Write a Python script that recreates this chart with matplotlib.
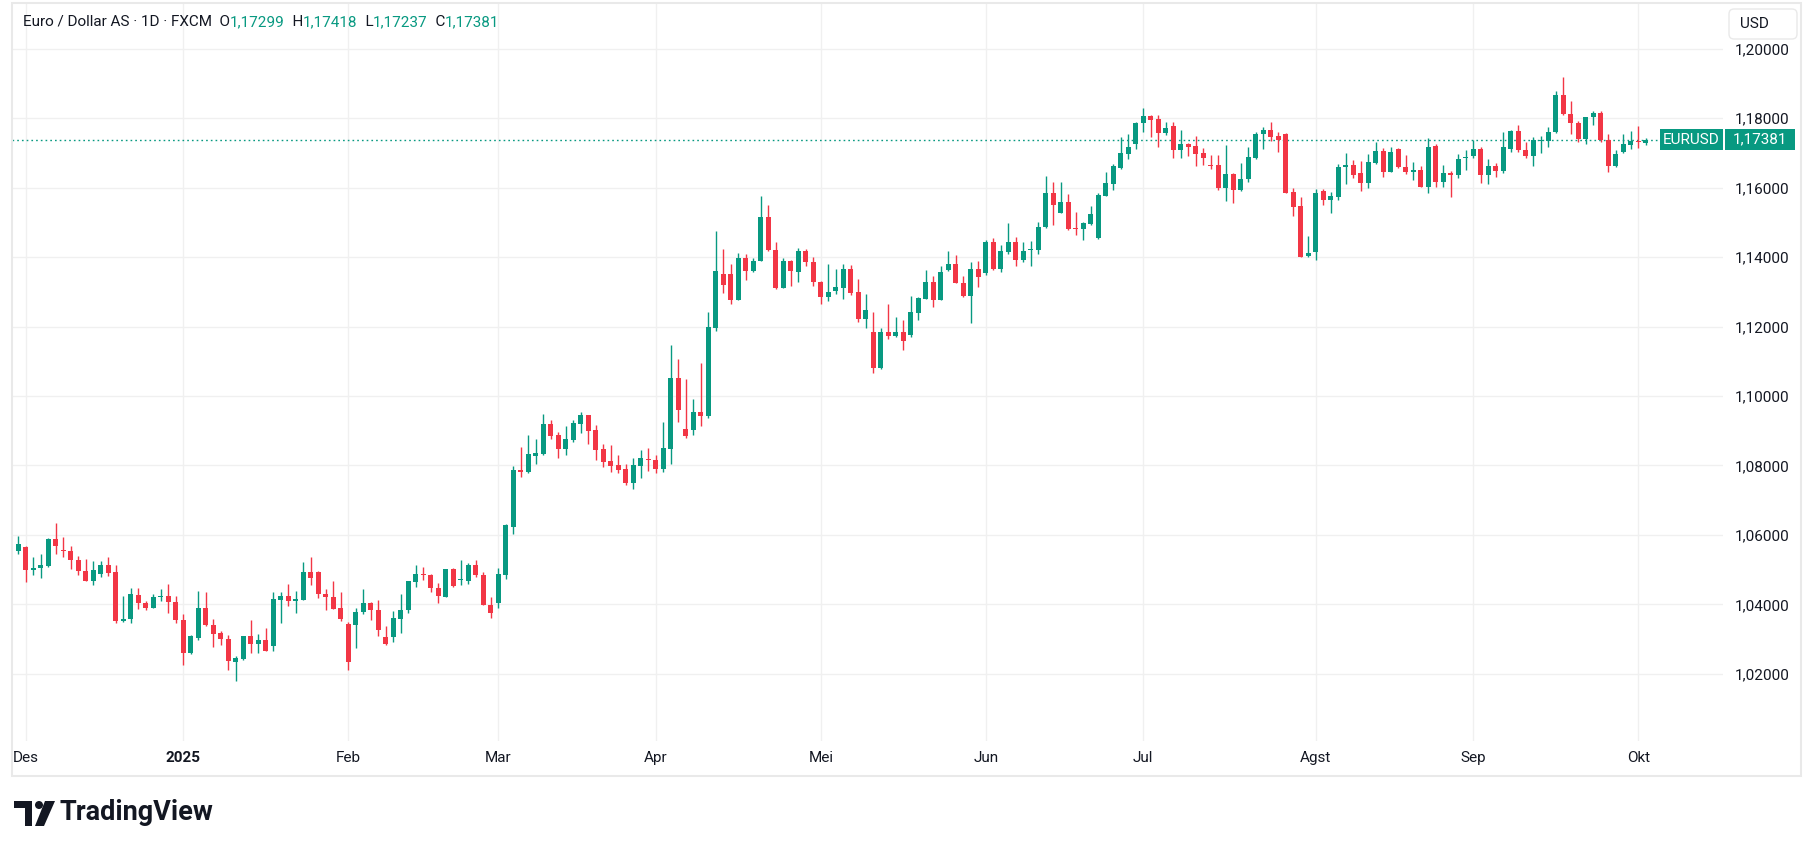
import matplotlib
matplotlib.use("Agg")
import matplotlib.pyplot as plt
from matplotlib.patches import Rectangle, FancyBboxPatch, Circle, Polygon
from matplotlib.transforms import Affine2D
from matplotlib.ticker import FuncFormatter
import numpy as np
import pandas as pd

W, H = 1814, 852
GREEN = "#089981"
RED = "#f23645"
TEXT = "#131722"
GRID = "#f0f0f0"
BORDER = "#e9e9e9"
FONT = ["Roboto", "DejaVu Sans"]
FS = 11

# daily bars, FXCM has no bar on 25 Dec and 1 Jan
dates = pd.bdate_range("2024-11-29", "2025-10-02")
dates = dates[~dates.isin(pd.to_datetime(["2024-12-25", "2025-01-01"]))]

opens = [
    1.0553, 1.0566, 1.0498, 1.0504, 1.0510, 1.0587, 1.0555, 1.0555, 1.0529, 1.0497,
    1.0466, 1.0487, 1.0512, 1.0492, 1.0351, 1.0357, 1.0428, 1.0405, 1.0391, 1.0420,
    1.0425, 1.0408, 1.0356, 1.0259, 1.0302, 1.0390, 1.0341, 1.0318, 1.0301, 1.0235,
    1.0244, 1.0309, 1.0287, 1.0298, 1.0279, 1.0414, 1.0425, 1.0409, 1.0414, 1.0494,
    1.0494, 1.0431, 1.0422, 1.0390, 1.0344, 1.0342, 1.0377, 1.0405, 1.0385, 1.0307,
    1.0305, 1.0359, 1.0383, 1.0463, 1.0486, 1.0486, 1.0448, 1.0422, 1.0503, 1.0469,
    1.0466, 1.0514, 1.0486, 1.0399, 1.0403, 1.0486, 1.0623, 1.0786, 1.0782, 1.0828,
    1.0833, 1.0919, 1.0888, 1.0848, 1.0874, 1.0920, 1.0945, 1.0902, 1.0847, 1.0813,
    1.0801, 1.0789, 1.0750, 1.0799, 1.0819, 1.0815, 1.0790, 1.0848, 1.1052, 1.0905,
    1.0903, 1.0954, 1.0943, 1.1196, 1.1352, 1.1352, 1.1277, 1.1398, 1.1361, 1.1390,
    1.1514, 1.1421, 1.1312, 1.1389, 1.1358, 1.1418, 1.1386, 1.1329, 1.1286, 1.1301,
    1.1312, 1.1366, 1.1300, 1.1222, 1.1184, 1.1080, 1.1184, 1.1172, 1.1184, 1.1176,
    1.1240, 1.1280, 1.1329, 1.1277, 1.1364, 1.1381, 1.1326, 1.1289, 1.1366, 1.1353,
    1.1442, 1.1367, 1.1416, 1.1444, 1.1393, 1.1419, 1.1419, 1.1486, 1.1584, 1.1527,
    1.1560, 1.1482, 1.1480, 1.1495, 1.1454, 1.1576, 1.1611, 1.1657, 1.1698, 1.1727,
    1.1785, 1.1807, 1.1798, 1.1756, 1.1778, 1.1707, 1.1726, 1.1720, 1.1700, 1.1665,
    1.1665, 1.1600, 1.1639, 1.1594, 1.1626, 1.1686, 1.1753, 1.1766, 1.1749, 1.1755,
    1.1587, 1.1547, 1.1403, 1.1415, 1.1590, 1.1565, 1.1574, 1.1658, 1.1665, 1.1642,
    1.1614, 1.1671, 1.1706, 1.1646, 1.1711, 1.1660, 1.1646, 1.1651, 1.1603, 1.1720,
    1.1617, 1.1642, 1.1637, 1.1684, 1.1691, 1.1711, 1.1635, 1.1662, 1.1649, 1.1710,
    1.1763, 1.1709, 1.1692, 1.1734, 1.1733, 1.1759, 1.1867, 1.1813, 1.1787, 1.1741,
    1.1802, 1.1815, 1.1737, 1.1663, 1.1703, 1.1724, 1.1735, 1.17299,
]
highs = [
    1.0598, 1.0569, 1.0537, 1.0546, 1.0592, 1.0633, 1.0595, 1.0569, 1.0540, 1.0531,
    1.0526, 1.0526, 1.0535, 1.0514, 1.0425, 1.0448, 1.0448, 1.0410, 1.0431, 1.0445,
    1.0460, 1.0425, 1.0373, 1.0312, 1.0439, 1.0436, 1.0359, 1.0324, 1.0312, 1.0252,
    1.0310, 1.0356, 1.0315, 1.0333, 1.0436, 1.0436, 1.0460, 1.0439, 1.0523, 1.0535,
    1.0495, 1.0445, 1.0468, 1.0436, 1.0350, 1.0390, 1.0445, 1.0408, 1.0413, 1.0338,
    1.0382, 1.0431, 1.0468, 1.0514, 1.0509, 1.0488, 1.0462, 1.0503, 1.0506, 1.0529,
    1.0520, 1.0529, 1.0494, 1.0422, 1.0506, 1.0631, 1.0798, 1.0853, 1.0888, 1.0876,
    1.0948, 1.0931, 1.0896, 1.0914, 1.0931, 1.0954, 1.0946, 1.0916, 1.0862, 1.0859,
    1.0830, 1.0804, 1.0821, 1.0844, 1.0850, 1.0830, 1.0925, 1.1147, 1.1107, 1.1049,
    1.0991, 1.1095, 1.1242, 1.1476, 1.1424, 1.1381, 1.1413, 1.1410, 1.1398, 1.1575,
    1.1549, 1.1442, 1.1398, 1.1392, 1.1427, 1.1424, 1.1401, 1.1330, 1.1381, 1.1366,
    1.1381, 1.1378, 1.1337, 1.1294, 1.1242, 1.1195, 1.1265, 1.1227, 1.1218, 1.1288,
    1.1285, 1.1363, 1.1346, 1.1375, 1.1418, 1.1407, 1.1346, 1.1386, 1.1389, 1.1450,
    1.1456, 1.1436, 1.1497, 1.1459, 1.1442, 1.1447, 1.1502, 1.1633, 1.1615, 1.1615,
    1.1581, 1.1531, 1.1502, 1.1546, 1.1584, 1.1644, 1.1668, 1.1746, 1.1755, 1.1789,
    1.1830, 1.1810, 1.1810, 1.1789, 1.1789, 1.1766, 1.1729, 1.1749, 1.1714, 1.1694,
    1.1694, 1.1723, 1.1642, 1.1671, 1.1717, 1.1761, 1.1775, 1.1789, 1.1761, 1.1758,
    1.1600, 1.1574, 1.1461, 1.1596, 1.1596, 1.1587, 1.1668, 1.1700, 1.1680, 1.1677,
    1.1697, 1.1732, 1.1714, 1.1717, 1.1714, 1.1694, 1.1674, 1.1662, 1.1743, 1.1726,
    1.1665, 1.1648, 1.1697, 1.1709, 1.1737, 1.1717, 1.1683, 1.1671, 1.1761, 1.1766,
    1.1781, 1.1732, 1.1746, 1.1749, 1.1775, 1.1879, 1.1919, 1.1850, 1.1792, 1.1804,
    1.1821, 1.1821, 1.1755, 1.1709, 1.1755, 1.1763, 1.1778, 1.17418,
]
lows = [
    1.0544, 1.0463, 1.0484, 1.0475, 1.0508, 1.0544, 1.0536, 1.0501, 1.0484, 1.0466,
    1.0455, 1.0478, 1.0481, 1.0345, 1.0350, 1.0345, 1.0386, 1.0385, 1.0390, 1.0409,
    1.0374, 1.0345, 1.0224, 1.0257, 1.0296, 1.0339, 1.0276, 1.0284, 1.0212, 1.0178,
    1.0241, 1.0261, 1.0261, 1.0267, 1.0267, 1.0345, 1.0394, 1.0374, 1.0413, 1.0455,
    1.0417, 1.0385, 1.0388, 1.0351, 1.0212, 1.0273, 1.0371, 1.0354, 1.0308, 1.0284,
    1.0293, 1.0319, 1.0374, 1.0449, 1.0469, 1.0437, 1.0403, 1.0420, 1.0451, 1.0455,
    1.0458, 1.0478, 1.0397, 1.0362, 1.0391, 1.0472, 1.0603, 1.0767, 1.0779, 1.0805,
    1.0831, 1.0877, 1.0822, 1.0831, 1.0868, 1.0894, 1.0863, 1.0816, 1.0796, 1.0782,
    1.0779, 1.0744, 1.0733, 1.0764, 1.0785, 1.0779, 1.0782, 1.0805, 1.0926, 1.0880,
    1.0889, 1.0914, 1.0938, 1.1187, 1.1298, 1.1266, 1.1275, 1.1335, 1.1358, 1.1388,
    1.1418, 1.1309, 1.1310, 1.1318, 1.1329, 1.1373, 1.1318, 1.1266, 1.1274, 1.1295,
    1.1280, 1.1292, 1.1214, 1.1196, 1.1066, 1.1078, 1.1163, 1.1169, 1.1132, 1.1170,
    1.1219, 1.1278, 1.1257, 1.1275, 1.1361, 1.1324, 1.1286, 1.1211, 1.1315, 1.1347,
    1.1364, 1.1358, 1.1408, 1.1373, 1.1387, 1.1373, 1.1408, 1.1485, 1.1492, 1.1526,
    1.1477, 1.1463, 1.1448, 1.1492, 1.1453, 1.1575, 1.1593, 1.1654, 1.1681, 1.1710,
    1.1761, 1.1746, 1.1718, 1.1752, 1.1686, 1.1684, 1.1692, 1.1663, 1.1666, 1.1654,
    1.1594, 1.1562, 1.1557, 1.1591, 1.1617, 1.1681, 1.1712, 1.1733, 1.1704, 1.1585,
    1.1519, 1.1400, 1.1400, 1.1391, 1.1551, 1.1528, 1.1565, 1.1611, 1.1629, 1.1591,
    1.1600, 1.1668, 1.1632, 1.1645, 1.1657, 1.1640, 1.1623, 1.1602, 1.1585, 1.1603,
    1.1603, 1.1574, 1.1629, 1.1652, 1.1686, 1.1614, 1.1609, 1.1632, 1.1643, 1.1704,
    1.1704, 1.1684, 1.1661, 1.1701, 1.1718, 1.1758, 1.1810, 1.1753, 1.1730, 1.1727,
    1.1779, 1.1730, 1.1646, 1.1658, 1.1701, 1.1712, 1.1715, 1.17237,
]
closes = [
    1.0575, 1.0498, 1.0506, 1.0512, 1.0587, 1.0567, 1.0553, 1.0527, 1.0495, 1.0467,
    1.0500, 1.0512, 1.0489, 1.0351, 1.0359, 1.0431, 1.0403, 1.0391, 1.0422, 1.0422,
    1.0406, 1.0354, 1.0261, 1.0309, 1.0390, 1.0340, 1.0316, 1.0299, 1.0238, 1.0246,
    1.0309, 1.0287, 1.0298, 1.0267, 1.0416, 1.0425, 1.0409, 1.0416, 1.0494, 1.0475,
    1.0429, 1.0420, 1.0388, 1.0357, 1.0233, 1.0379, 1.0405, 1.0383, 1.0325, 1.0285,
    1.0361, 1.0385, 1.0466, 1.0488, 1.0484, 1.0446, 1.0423, 1.0503, 1.0454, 1.0471,
    1.0514, 1.0484, 1.0397, 1.0374, 1.0488, 1.0628, 1.0787, 1.0782, 1.0833, 1.0836,
    1.0919, 1.0886, 1.0848, 1.0876, 1.0922, 1.0945, 1.0900, 1.0845, 1.0811, 1.0799,
    1.0787, 1.0750, 1.0801, 1.0821, 1.0816, 1.0790, 1.0850, 1.1052, 1.0961, 1.0886,
    1.0954, 1.0943, 1.1198, 1.1360, 1.1321, 1.1277, 1.1398, 1.1361, 1.1389, 1.1514,
    1.1419, 1.1312, 1.1389, 1.1361, 1.1418, 1.1385, 1.1327, 1.1286, 1.1300, 1.1314,
    1.1366, 1.1298, 1.1222, 1.1247, 1.1080, 1.1184, 1.1173, 1.1184, 1.1158, 1.1242,
    1.1282, 1.1329, 1.1277, 1.1357, 1.1381, 1.1324, 1.1289, 1.1366, 1.1344, 1.1442,
    1.1367, 1.1418, 1.1444, 1.1393, 1.1418, 1.1421, 1.1488, 1.1584, 1.1550, 1.1560,
    1.1480, 1.1480, 1.1497, 1.1523, 1.1578, 1.1613, 1.1662, 1.1700, 1.1717, 1.1787,
    1.1807, 1.1796, 1.1756, 1.1772, 1.1707, 1.1726, 1.1718, 1.1698, 1.1686, 1.1663,
    1.1600, 1.1639, 1.1594, 1.1625, 1.1688, 1.1755, 1.1766, 1.1747, 1.1738, 1.1585,
    1.1545, 1.1400, 1.1411, 1.1585, 1.1565, 1.1576, 1.1660, 1.1665, 1.1637, 1.1614,
    1.1674, 1.1706, 1.1646, 1.1703, 1.1658, 1.1646, 1.1651, 1.1603, 1.1717, 1.1617,
    1.1642, 1.1637, 1.1683, 1.1686, 1.1711, 1.1635, 1.1662, 1.1649, 1.1717, 1.1763,
    1.1707, 1.1692, 1.1736, 1.1736, 1.1761, 1.1867, 1.1811, 1.1785, 1.1741, 1.1803,
    1.1815, 1.1736, 1.1663, 1.1697, 1.1726, 1.1735, 1.1730, 1.17381,
]

month_names = {12: "Des", 1: "2025", 2: "Feb", 3: "Mar", 4: "Apr", 5: "Mei",
               6: "Jun", 7: "Jul", 8: "Agst", 9: "Sep", 10: "Okt"}
price_ticks = [1.02, 1.04, 1.06, 1.08, 1.10, 1.12, 1.14, 1.16, 1.18, 1.20]


def fmt(v):
    return f"{v:.5f}".replace(".", ",")


o = np.array(opens)
h = np.array(highs)
l = np.array(lows)
c = np.array(closes)
x = np.arange(len(dates))
up = c >= o
colors = np.where(up, GREEN, RED)

fig = plt.figure(figsize=(W / 100, H / 100), dpi=100)
fig.patch.set_facecolor("white")
# pixel transform, origin at top-left of the image
T = Affine2D().scale(1, -1).translate(0, H)

ax = fig.add_axes([12 / W, 1 - 741 / H, (1723 - 12) / W, (741 - 3) / H])
ax.set_xlim(-0.84, 227.3)
ax.set_ylim(1.00066, 1.21316)

ax.vlines(x, l, h, colors=colors, lw=1.0, zorder=3)
body = np.maximum(np.abs(c - o), 0.0003)
ax.bar(x, body, bottom=np.minimum(o, c), width=0.66, color=colors, lw=0, zorder=4)

ax.axhline(c[-1], color=GREEN, lw=1.0, ls=(0, (1.2, 2.2)), zorder=2)

# month ticks at the first bar of each month
first = [i for i in range(1, len(dates)) if dates[i].month != dates[i - 1].month]
ax.set_xticks(first)
ax.set_xticklabels([month_names[dates[i].month] for i in first])
for lab in ax.get_xticklabels():
    if lab.get_text() == "2025":
        lab.set_fontweight("bold")

ax.yaxis.tick_right()
ax.set_yticks(price_ticks)
ax.yaxis.set_major_formatter(FuncFormatter(lambda v, p: fmt(v)))
ax.tick_params(axis="y", length=0, pad=8.5, labelsize=FS, labelcolor=TEXT)
ax.tick_params(axis="x", length=0, pad=7.5, labelsize=FS, labelcolor=TEXT)
for lab in ax.get_xticklabels() + ax.get_yticklabels():
    lab.set_family(FONT)
ax.grid(True, color=GRID, lw=1.0, zorder=0)
ax.set_axisbelow(True)
for s in ax.spines.values():
    s.set_visible(False)

# outer frame
fig.patches.append(Rectangle((12, 3), 1789, 773, transform=T, fill=False,
                             ec=BORDER, lw=1.5, zorder=1))

# currency button
fig.patches.append(FancyBboxPatch((1729, 9), 68, 30, boxstyle="round,pad=0,rounding_size=5",
                                  transform=T, fc="white", ec=BORDER, lw=1.0, zorder=6))
fig.text(1740, 24, "USD", transform=T, ha="left", va="center", fontsize=FS,
         color=TEXT, family=FONT, zorder=7)

# last price labels
yc = H - ax.transData.transform((0, c[-1]))[1]
fig.patches.append(Rectangle((1660, yc - 10.5), 63, 21, transform=T, fc=GREEN, ec="none", zorder=6))
fig.patches.append(Rectangle((1725, yc - 10.5), 70, 21, transform=T, fc=GREEN, ec="none", zorder=6))
fig.text(1691.5, yc, "EURUSD", transform=T, ha="center", va="center", fontsize=FS,
         color="white", family=FONT, zorder=7)
fig.text(1760, yc, fmt(c[-1]), transform=T, ha="center", va="center", fontsize=FS,
         color="white", family=FONT, zorder=7)

# legend header
pieces = [("Euro / Dollar AS · 1D · FXCM", TEXT),
          ("  O", TEXT), (fmt(o[-1]), GREEN),
          ("  H", TEXT), (fmt(h[-1]), GREEN),
          ("  L", TEXT), (fmt(l[-1]), GREEN),
          ("  C", TEXT), (fmt(c[-1]), GREEN)]
renderer = fig.canvas.get_renderer()
xpos = 23
for s, col in pieces:
    t = fig.text(xpos, 22, s, transform=T, ha="left", va="center", fontsize=FS,
                 color=col, family=FONT, zorder=7)
    xpos += t.get_window_extent(renderer).width

# TradingView logo
fig.patches.append(Rectangle((14, 801), 18, 7, transform=T, fc=TEXT, ec="none"))
fig.patches.append(Rectangle((25, 801), 7, 25, transform=T, fc=TEXT, ec="none"))
fig.patches.append(Circle((39, 805), 4, transform=T, fc=TEXT, ec="none"))
fig.patches.append(Polygon([(45, 801), (55, 801), (44, 826), (35, 826)], closed=True,
                           transform=T, fc=TEXT, ec="none"))
fig.text(60, 813, "TradingView", transform=T, ha="left", va="center", fontsize=19.5,
         fontweight="bold", color=TEXT, family=FONT)

fig.savefig("out.png", dpi=100, facecolor="white")
